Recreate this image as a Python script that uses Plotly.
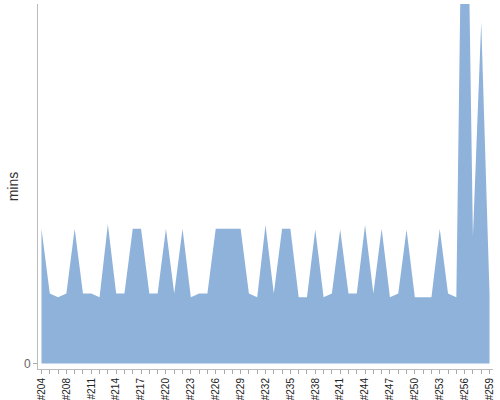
import plotly.graph_objects as go

# run labels along the x axis (#206 doesn't appear in the chart)
runs = ['#204', '#205', '#207', '#208', '#209', '#210', '#211', '#212', '#213', '#214',
        '#215', '#216', '#217', '#218', '#219', '#220', '#221', '#222', '#223', '#224',
        '#225', '#226', '#227', '#228', '#229', '#230', '#231', '#232', '#233', '#234',
        '#235', '#236', '#237', '#238', '#239', '#240', '#241', '#242', '#243', '#244',
        '#245', '#246', '#247', '#248', '#249', '#250', '#251', '#252', '#253', '#254',
        '#255', '#256', '#257', '#258', '#259']

# duration in minutes per run
mins = [37.5, 19.5, 18.4, 19.5, 37.5, 19.5, 19.5, 18.4, 38.7, 19.5,
        19.5, 37.5, 37.5, 19.5, 19.5, 37.5, 19.5, 37.5, 18.4, 19.5,
        19.5, 37.5, 37.5, 37.5, 37.5, 19.5, 18.4, 38.5, 19.5, 37.5,
        37.5, 18.4, 18.4, 37.3, 18.4, 19.5, 37.3, 19.5, 19.5, 38.5,
        19.5, 37.5, 18.4, 19.5, 37.3, 18.4, 18.4, 18.4, 37.5, 19.5,
        18.4, 192.0, 35.3, 95.0, 19.5]

y_max = 100

# only every 3rd run gets a label, but every run gets a tick
labelled = [r for i, r in enumerate(runs) if i % 3 == 0]
tick_text = [r if r in labelled else '' for r in runs]

fig = go.Figure()
fig.add_trace(go.Scatter(
    x=runs, y=mins,
    mode='lines',
    fill='tozeroy',
    fillcolor='rgb(143,178,219)',
    line=dict(width=0, color='rgb(143,178,219)'),
    hoverinfo='x+y'
))

fig.update_layout(
    width=500, height=400,
    margin=dict(l=38, r=7, t=4, b=31),
    plot_bgcolor='white', paper_bgcolor='white',
    showlegend=False,
    font=dict(family='Liberation Sans, Arial', size=11, color='#222'),
    xaxis=dict(
        type='category',
        range=[-0.42, len(runs) - 1 + 0.42],
        tickmode='array', tickvals=runs, ticktext=tick_text,
        tickangle=-90, tickfont=dict(size=10, color='#222'),
        ticks='outside', ticklen=4, tickcolor='#aaa',
        showline=True, linecolor='#bbb', linewidth=1,
        showgrid=False, automargin=False
    ),
    yaxis=dict(
        range=[-1.53, y_max],
        tickmode='array', tickvals=[0], ticktext=['0'],
        tickfont=dict(size=12, color='#666'),
        ticks='outside', ticklen=4, tickcolor='#aaa',
        showline=True, linecolor='#bbb', linewidth=1,
        showgrid=False, zeroline=False, automargin=False,
        title=dict(text='mins', font=dict(size=14, color='#333'), standoff=2)
    )
)

# the page's default body margin would shift the chart by 8px
fig.write_html('out.html', config={'displayModeBar': False},
               post_script="document.body.style.margin='0';")
